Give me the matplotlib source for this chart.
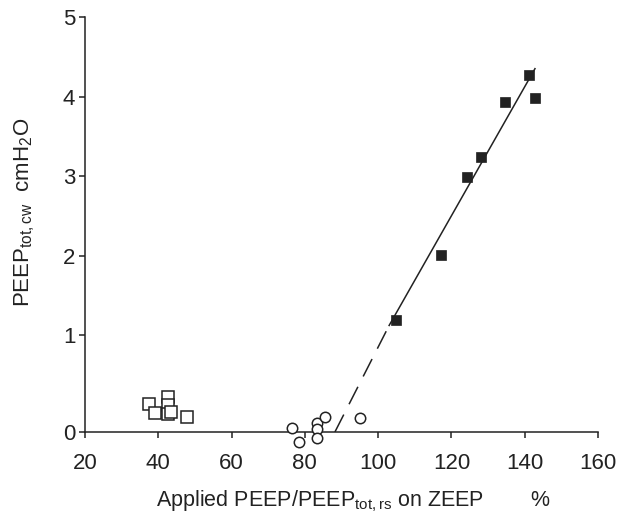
"""
Scatter of PEEPtot,cw against applied PEEP / PEEPtot,rs with regression line.
Outputs out.png.
"""
import matplotlib
matplotlib.use("Agg")
import matplotlib.pyplot as plt
import numpy as np

# open squares
sq_open_x = [37.6, 39.1, 42.6, 42.6, 42.6, 43.4, 47.9]
sq_open_y = [0.29, 0.20, 0.36, 0.28, 0.19, 0.21, 0.15]

# open circles
circ_x = [76.4, 78.4, 83.4, 83.4, 83.4, 85.6, 95.0]
circ_y = [0.04, -0.10, 0.09, 0.03, -0.065, 0.15, 0.14]

# filled squares
sq_fill_x = [105.0, 117.1, 124.2, 128.0, 134.6, 141.2, 142.8]
sq_fill_y = [1.19, 2.01, 2.99, 3.24, 3.93, 4.27, 3.98]

# regression line: solid part and dashed extrapolation
solid_x = [103.0, 142.8]
solid_y = [1.12, 4.35]
dash_x = [88.2, 103.0]
dash_y = [0.0, 1.12]

x_ticks = [20, 40, 60, 80, 100, 120, 140, 160]
y_ticks = [0, 1, 2, 3, 4, 5]

# the 0-1 band is stretched in the original figure
K = 1.22


def fwd(y):
    y = np.asarray(y, dtype=float)
    return np.where(y >= 1, y, 1 + (y - 1) * K)


def inv(t):
    t = np.asarray(t, dtype=float)
    return np.where(t >= 1, t, 1 + (t - 1) / K)


def main():
    plt.rcParams["font.family"] = ["Liberation Sans", "DejaVu Sans"]
    plt.rcParams["mathtext.fontset"] = "custom"
    plt.rcParams["mathtext.rm"] = "Liberation Sans"
    plt.rcParams["mathtext.it"] = "Liberation Sans"

    ink = "#222222"
    fig = plt.figure(figsize=(6.27, 5.13), dpi=100)
    ax = fig.add_axes([85 / 627, 81 / 513, 513 / 627, 415 / 513])
    ax.set_yscale("function", functions=(fwd, inv))

    ax.plot(solid_x, solid_y, color=ink, lw=1.1)
    ax.plot(dash_x, dash_y, color=ink, lw=1.1, dashes=(12.8, 7.6))

    ax.plot(sq_open_x, sq_open_y, ls="none", marker="s", ms=8, mfc="white",
            mec=ink, mew=1.1, clip_on=False, zorder=3)
    ax.plot(circ_x, circ_y, ls="none", marker="o", ms=7.5, mfc="white",
            mec=ink, mew=1.1, clip_on=False, zorder=3)
    ax.plot(sq_fill_x, sq_fill_y, ls="none", marker="s", ms=6.8, mfc=ink,
            mec=ink, mew=0.5, clip_on=False, zorder=3)

    ax.set_xlim(20, 160)
    ax.set_ylim(0, 5)
    ax.set_xticks(x_ticks)
    ax.set_yticks(y_ticks)
    ax.spines["top"].set_visible(False)
    ax.spines["right"].set_visible(False)
    for s in ("left", "bottom"):
        ax.spines[s].set_color(ink)
        ax.spines[s].set_linewidth(1.1)
    ax.tick_params(axis="both", direction="out", length=4, width=1.1,
                   color=ink, labelsize=16, labelcolor=ink)
    ax.tick_params(axis="x", pad=11)
    ax.tick_params(axis="y", pad=3)

    ax.set_xlabel(r"Applied PEEP/PEEP$_{\mathrm{tot,rs}}$ on ZEEP        %",
                  fontsize=15.5, color=ink)
    ax.xaxis.set_label_coords(0.524, -0.137)
    ax.set_ylabel(r"PEEP$_{\mathrm{tot,cw}}$  cmH$_2$O",
                  fontsize=16, color=ink)
    ax.yaxis.set_label_coords(-0.094, 0.528)

    fig.savefig("out.png", dpi=100)
    plt.close(fig)


if __name__ == "__main__":
    main()
